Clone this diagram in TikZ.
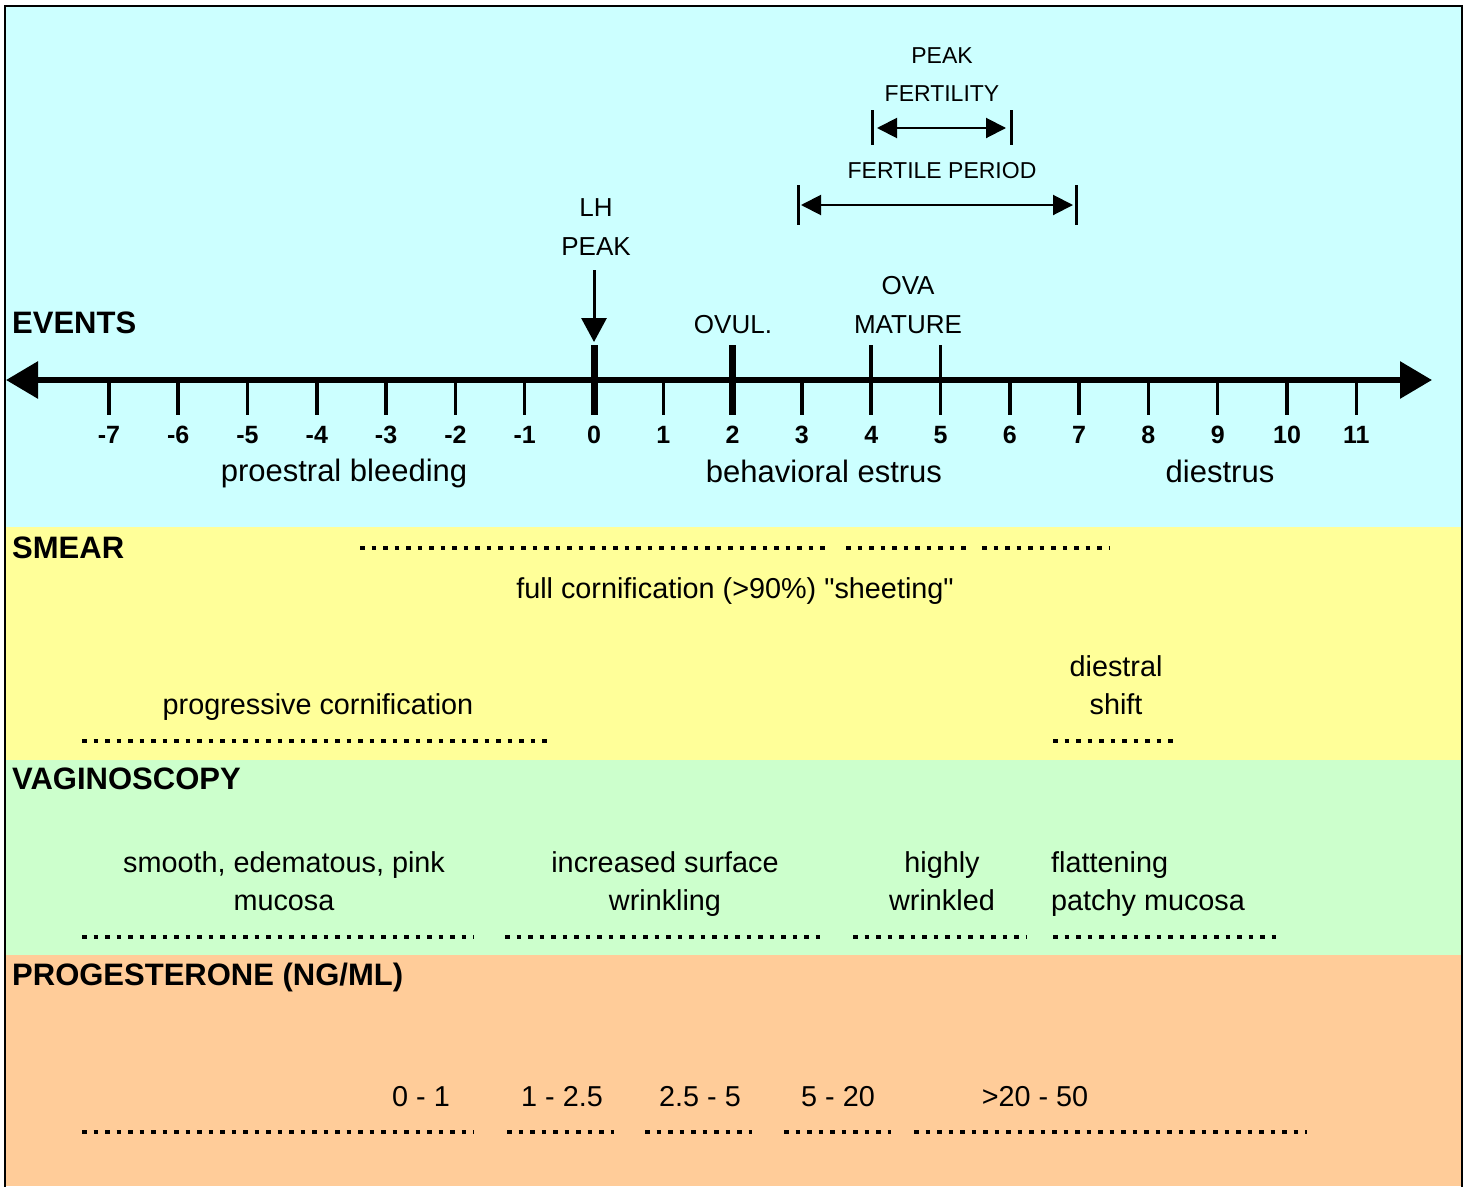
\documentclass[tikz,border=0pt]{standalone}
\usepackage{fontspec}
\setmainfont{Liberation Sans}[Ligatures=TeXOff]
\usetikzlibrary{arrows.meta}

\definecolor{eventbg}{HTML}{CCFFFF}
\definecolor{smearbg}{HTML}{FFFF99}
\definecolor{vaginbg}{HTML}{CCFFCC}
\definecolor{progbg}{HTML}{FFCC99}

\newcommand{\dayx}[1]{594+69.3*#1}

\tikzset{
  head/.style={font=\fontsize{31}{36}\selectfont\bfseries, anchor=west, inner sep=0pt},
  big/.style={font=\fontsize{31}{38}\selectfont, inner sep=0pt},
  txt/.style={font=\fontsize{28.8}{38}\selectfont, align=center, inner sep=0pt},
  lbl/.style={font=\fontsize{26}{39}\selectfont, align=center, inner sep=0pt},
  small/.style={font=\fontsize{23}{38}\selectfont, align=center, inner sep=0pt},
  num/.style={font=\fontsize{25}{30}\selectfont\bfseries, inner sep=0pt},
  dotrow/.style={line width=4.5pt, dash pattern=on 4.5pt off 7pt},
  bar/.style={line width=3pt},
}

\begin{document}
\begin{tikzpicture}[x=1pt, y=-1pt]
  \useasboundingbox (0,0) rectangle (1469,1186);

  %fundos das faixas
  \fill[eventbg] (5,6) rectangle (1462,527);
  \fill[smearbg] (5,527) rectangle (1462,760);
  \fill[vaginbg] (5,760) rectangle (1462,955);
  \fill[progbg] (5,955) rectangle (1462,1186);
  \draw[line width=2.5pt] (5,1190) -- (5,6) -- (1462,6) -- (1462,1190);

  %eixo dos dias
  \coordinate (L) at (6,380);
  \coordinate (R) at (1432,380);
  \draw[line width=6pt, {Triangle[length=32pt,width=36pt]}-{Triangle[length=32pt,width=36pt]}] (L) -- (R);
  \foreach \d in {-7,...,11}{
    \draw[line width=3.5pt] ({\dayx{\d}},380) -- ({\dayx{\d}},415);
    \node[num] (n\d) at ({\dayx{\d}},435) {\d};
  }

  %marcas longas
  \coordinate (z0) at ({\dayx{0}},345);
  \coordinate (z2) at ({\dayx{2}},345);
  \coordinate (z4) at ({\dayx{4}},345);
  \coordinate (z5) at ({\dayx{5}},345);
  \draw[line width=7pt] (z0) -- ++(0,70);
  \draw[line width=7pt] (z2) -- ++(0,70);
  \draw[line width=3.5pt] (z4) -- ++(0,35);
  \draw[line width=3.5pt] (z5) -- ++(0,35);

  %eventos
  \node[head] (events) at (12,323) {EVENTS};
  \node[lbl] (lh) at (596,227.5) {LH\\PEAK};
  \draw[line width=3pt, -{Triangle[length=24pt,width=25pt]}, shorten >=3pt] ([yshift=-14pt]lh.south -| z0) -- (z0);
  \node[lbl] (ovul) at (733,325) {OVUL.};
  \node[lbl] (ova) at (908,305) {OVA\\MATURE};

  %pico de fertilidade
  \node[small] (peak) at (942,75) {PEAK\\FERTILITY};
  \coordinate (pf1) at (872,128);
  \coordinate (pf2) at (1011,128);
  \draw[bar] (872,110) -- (872,145);
  \draw[bar] (1011,110) -- (1011,145);
  \draw[line width=2pt, {Triangle[length=20pt,width=20pt]}-{Triangle[length=20pt,width=20pt]}, shorten <=5pt, shorten >=5pt] (pf1) -- (pf2);

  %periodo fertil
  \node[small] (fert) at (942,171) {FERTILE PERIOD};
  \coordinate (fp1) at (798,205);
  \coordinate (fp2) at (1076,205);
  \draw[bar] (798,185) -- (798,225);
  \draw[bar] (1076,185) -- (1076,225);
  \draw[line width=2pt, {Triangle[length=20pt,width=20pt]}-{Triangle[length=20pt,width=20pt]}, shorten <=3pt, shorten >=3pt] (fp1) -- (fp2);

  \node[big] (proes) at (344,473) {proestral bleeding};
  \node[big] (behav) at (824,471) {behavioral estrus};
  \node[big] (dies) at (1220,471) {diestrus};

  %esfregaco
  \node[head] (smear) at (12,548) {SMEAR};
  \node[txt] (full) at (735,591) {full cornification (>90\%) "sheeting"};
  \node[txt] (prog) at (318,707) {progressive cornification};
  \node[txt] (shift) at (1116,685) {diestral\\shift};

  %vaginoscopia
  \node[head] (vagin) at (12,779) {VAGINOSCOPY};
  \node[txt] (smooth) at (284,881) {smooth, edematous, pink\\mucosa};
  \node[txt] (incr) at (665,884) {increased surface\\wrinkling};
  \node[txt] (highly) at (942,881) {highly\\wrinkled};
  \node[txt, align=left, anchor=west] (flat) at (1051,884) {flattening\\patchy mucosa};

  %progesterona
  \node[head] (proges) at (12,977) {PROGESTERONE (NG/ML)};
  \node[txt] (p1) at (421,1097) {0 - 1};
  \node[txt] (p2) at (562,1097) {1 - 2.5};
  \node[txt] (p3) at (700,1097) {2.5 - 5};
  \node[txt] (p4) at (838,1097) {5 - 20};
  \node[txt] (p5) at (1035,1097) {>20 - 50};

  %linhas pontilhadas
  \foreach \a/\b/\y in {360/826/548, 846/966/548, 982/1110/548,
      82/548/741, 1053/1173/741,
      82/474/937, 505/822/937, 853/1027/937, 1053/1276/937,
      82/474/1132, 507/614/1132, 645/752/1132, 784/891/1132, 914/1307/1132}
    \draw[dotrow] (\a,\y) -- (\b,\y);
\end{tikzpicture}
\end{document}
